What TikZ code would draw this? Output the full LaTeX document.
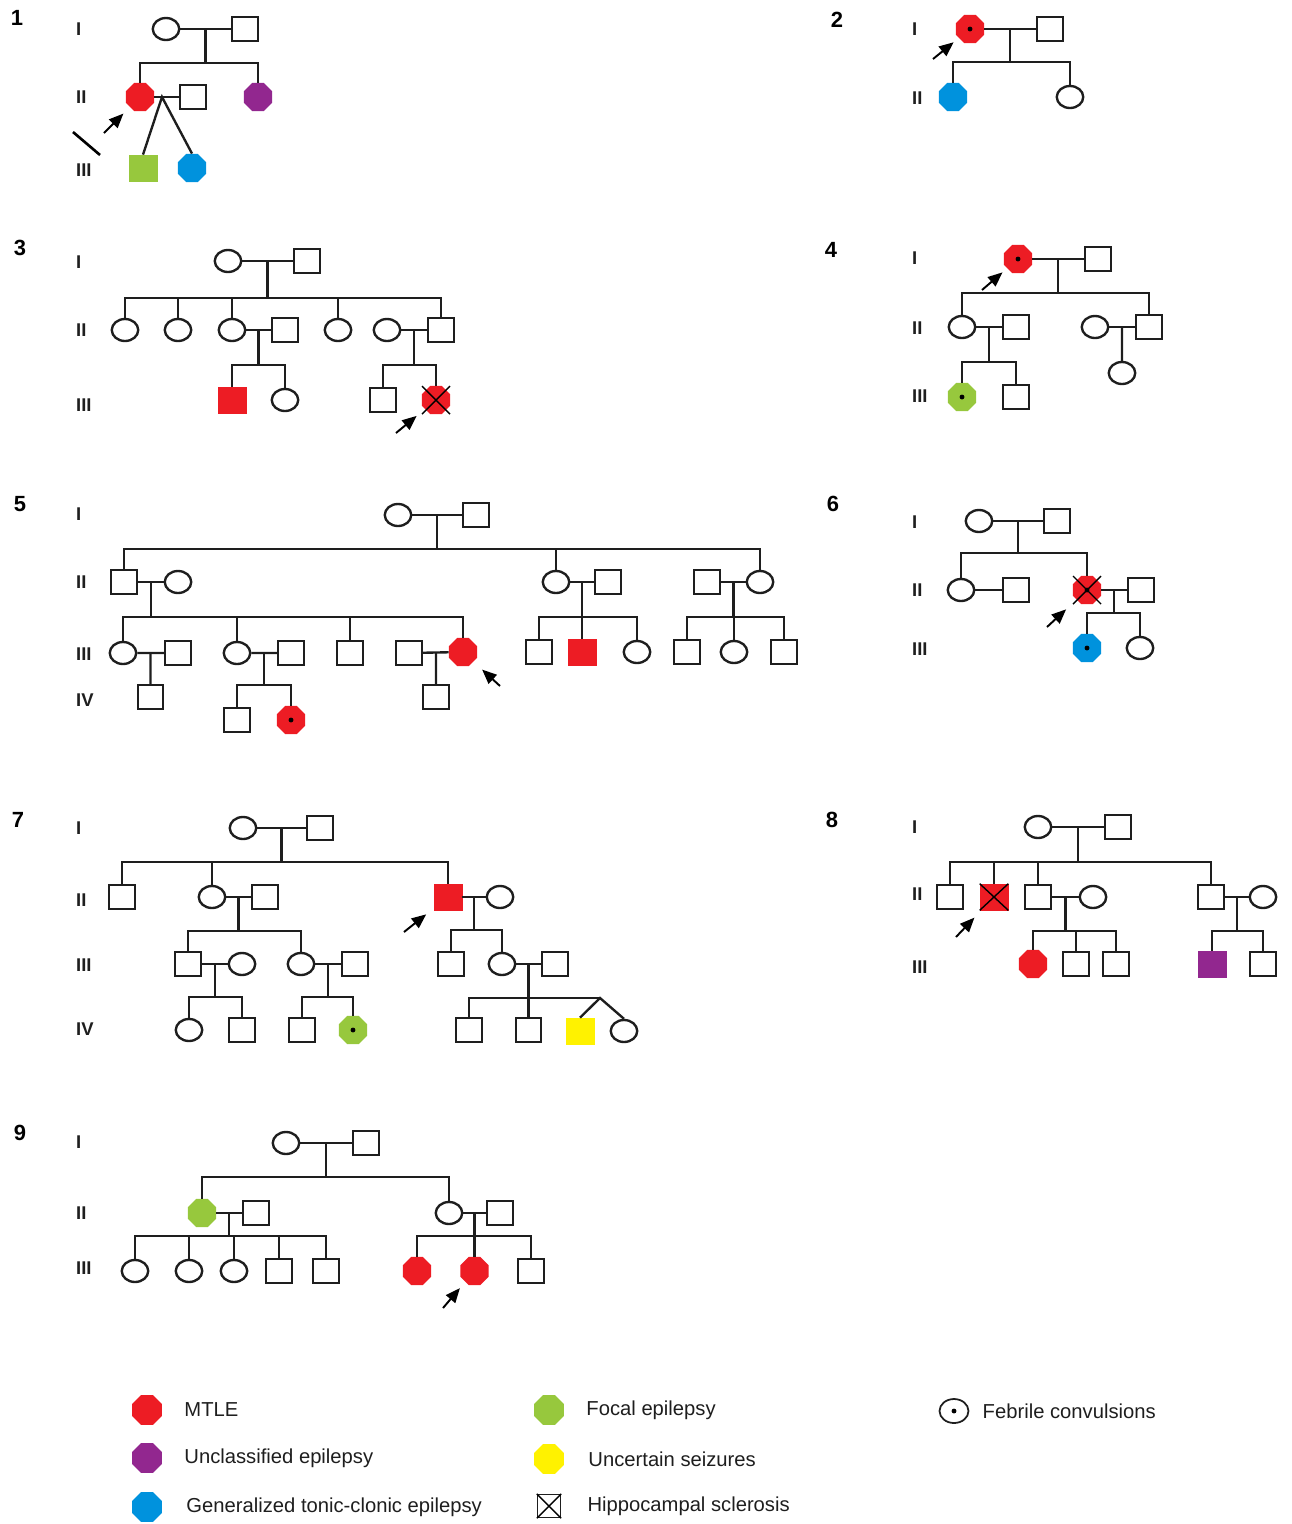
\documentclass[tikz,border=0pt]{standalone}
\usepackage{fontspec}
\setmainfont{Liberation Sans}
\usepackage{tikz}
\usetikzlibrary{arrows.meta,positioning,calc,shapes.geometric}

\definecolor{mtle}{RGB}{237,28,36}
\definecolor{uncl}{RGB}{146,39,143}
\definecolor{gtcs}{RGB}{0,146,221}
\definecolor{focal}{RGB}{151,200,61}
\definecolor{uncert}{RGB}{255,242,0}
\definecolor{ink}{RGB}{30,30,30}

\begin{document}
\begin{tikzpicture}[
  x=0.2mm, y=-0.2mm,
  rel/.style={draw=ink, line width=1.35pt},
  male/.style={rectangle, draw=ink, line width=1.35pt, inner sep=0pt,
               minimum width=5.1mm, minimum height=4.8mm},
  female/.style={ellipse, draw=ink, line width=1.35pt, inner sep=0pt,
                 minimum width=5.3mm, minimum height=4.4mm},
  affm/.style={rectangle, fill=#1, draw=#1, line width=0.4pt, inner sep=0pt,
               minimum width=5.6mm, minimum height=5.2mm},
  afff/.style={regular polygon, regular polygon sides=8, fill=#1,
               inner sep=0pt, minimum size=6.1mm},
  hs/.style={draw=black, line width=0.8pt},
  proband/.style={draw=black, line width=1.1pt,
                  -{Triangle[length=2.9mm,width=2.4mm]}, shorten >=1.8mm},
  gen/.style={anchor=west, text=ink, font=\fontsize{10.5}{11}\selectfont\bfseries},
  panel/.style={font=\fontsize{12.5}{14}\selectfont\bfseries},
  keytext/.style={anchor=west, inner sep=0pt, text=ink,
                  font=\fontsize{11.5}{13}\selectfont}]
\useasboundingbox (0,0) rectangle (1292,1524);

% ================= pedigree 1 =============================================
\node[panel] (n1) at (17,18) {1};
\foreach \y/\g in {29/I, 97/II, 170/III}
  {\node[gen] (p1-g\g) at (70,\y) {\g};}
\node[female] (p1-I-1) at (166,29) {};
\node[male]   (p1-I-2) at (245,29) {};
\node[afff=mtle] (p1-II-1) at (140,97) {};
\node[male]      (p1-II-2) at (193,97) {};
\node[afff=uncl] (p1-II-3) at (258,97) {};
\node[affm=focal] (p1-III-1) at (143,168) {};
\node[afff=gtcs]  (p1-III-2) at (192,168) {};
\coordinate (p1-m1) at ($(p1-I-1)!.5!(p1-I-2)$);
\coordinate (p1-s1) at (p1-m1 |- 0,63);
\coordinate (p1-tw) at (162,97);
\draw[rel] (p1-I-1) -- (p1-I-2) (p1-m1) -- (p1-s1);
\draw[rel] (p1-II-1.north) |- (p1-s1) -| (p1-II-3.north);
\draw[rel] (p1-II-1) -- (p1-II-2);
\draw[rel] (p1-III-1.north) -- (p1-tw) -- (p1-III-2.north);
\coordinate (p1-pb) at (104,133);
\draw[proband] (p1-pb) -- (p1-II-1);
\draw[line width=1.5pt, black] (73,132) -- (100,155);

% ================= pedigree 2 =============================================
\node[panel] (n2) at (837,20) {2};
\foreach \y/\g in {29/I, 98/II}
  {\node[gen] (p2-g\g) at (906,\y) {\g};}
\node[afff=mtle] (p2-I-1) at (970,29) {};
\fill[black] (p2-I-1) circle (1.4pt);
\node[male]      (p2-I-2) at (1050,29) {};
\node[afff=gtcs] (p2-II-1) at (953,97) {};
\node[female]    (p2-II-2) at (1070,97) {};
\coordinate (p2-m1) at ($(p2-I-1)!.5!(p2-I-2)$);
\coordinate (p2-s1) at (p2-m1 |- 0,62);
\draw[rel] (p2-I-1) -- (p2-I-2) (p2-m1) -- (p2-s1);
\draw[rel] (p2-II-1.north) |- (p2-s1) -| (p2-II-2.north);
\coordinate (p2-pb) at (933,59);
\draw[proband, shorten >=1.3mm] (p2-pb) -- (p2-I-1);

% ================= pedigree 3 =============================================
\node[panel] (n3) at (20,248) {3};
\foreach \y/\g in {262/I, 330/II, 405/III}
  {\node[gen] (p3-g\g) at (70,\y) {\g};}
\node[female] (p3-I-1) at (228,261) {};
\node[male]   (p3-I-2) at (307,261) {};
\foreach \x/\sx [count=\i] in {125/female, 178/female, 232/female, 285/male,
                               338/female, 387/female, 441/male}
  {\node[\sx] (p3-II-\i) at (\x,330) {};}
\node[affm=mtle] (p3-III-1) at (232,400) {};
\node[female]    (p3-III-2) at (285,400) {};
\node[male]      (p3-III-3) at (383,400) {};
\node[afff=mtle] (p3-III-4) at (436,400) {};
\draw[hs] (p3-III-4) ++(-14,-14) -- ++(28,28) ++(0,-28) -- ++(-28,28);
\coordinate (p3-m1) at ($(p3-I-1)!.5!(p3-I-2)$);
\coordinate (p3-s1) at (p3-m1 |- 0,298);
\coordinate (p3-m2) at ($(p3-II-3)!.5!(p3-II-4)$);
\coordinate (p3-s2) at (p3-m2 |- 0,365);
\coordinate (p3-m3) at ($(p3-II-6)!.5!(p3-II-7)$);
\coordinate (p3-s3) at (p3-m3 |- 0,365);
\draw[rel] (p3-I-1) -- (p3-I-2) (p3-m1) -- (p3-s1);
\draw[rel] (p3-II-1.north) |- (p3-s1) -| (p3-II-7.north);
\foreach \i in {2,3,5}
  {\draw[rel] (p3-II-\i.north) -- (p3-II-\i.north |- p3-s1);}
\draw[rel] (p3-II-3) -- (p3-II-4) (p3-II-6) -- (p3-II-7);
\draw[rel] (p3-m2) -- (p3-s2) (p3-III-1.north) |- (p3-s2) -| (p3-III-2.north);
\draw[rel] (p3-m3) -- (p3-s3) (p3-III-3.north) |- (p3-s3) -| (p3-III-4.north);
\coordinate (p3-pb) at (396,433);
\draw[proband, shorten >=2.1mm] (p3-pb) -- (p3-III-4);

% ================= pedigree 4 =============================================
\node[panel] (n4) at (831,250) {4};
\foreach \y/\g in {258/I, 328/II, 396/III}
  {\node[gen] (p4-g\g) at (906,\y) {\g};}
\node[afff=mtle] (p4-I-1) at (1018,259) {};
\fill[black] (p4-I-1) circle (1.4pt);
\node[male]      (p4-I-2) at (1098,259) {};
\foreach \x/\sx [count=\i] in {962/female, 1016/male, 1095/female, 1149/male}
  {\node[\sx] (p4-II-\i) at (\x,327) {};}
\node[afff=focal] (p4-III-1) at (962,397) {};
\fill[black] (p4-III-1) circle (1.4pt);
\node[male]       (p4-III-2) at (1016,397) {};
\node[female]     (p4-III-3) at (1122,373) {};
\coordinate (p4-m1) at ($(p4-I-1)!.5!(p4-I-2)$);
\coordinate (p4-s1) at (p4-m1 |- 0,293);
\coordinate (p4-m2) at ($(p4-II-1)!.5!(p4-II-2)$);
\coordinate (p4-s2) at (p4-m2 |- 0,362);
\coordinate (p4-m3) at ($(p4-II-3)!.5!(p4-II-4)$);
\draw[rel] (p4-I-1) -- (p4-I-2) (p4-m1) -- (p4-s1);
\draw[rel] (p4-II-1.north) |- (p4-s1) -| (p4-II-4.north);
\draw[rel] (p4-II-1) -- (p4-II-2) (p4-II-3) -- (p4-II-4);
\draw[rel] (p4-m2) -- (p4-s2) (p4-III-1.north) |- (p4-s2) -| (p4-III-2.north);
\draw[rel] (p4-m3) -- (p4-III-3);
\coordinate (p4-pb) at (982,290);
\draw[proband, shorten >=1.2mm] (p4-pb) -- (p4-I-1);

% ================= pedigree 5 =============================================
\node[panel] (n5) at (20,504) {5};
\foreach \y/\g in {514/I, 582/II, 654/III, 700/IV}
  {\node[gen] (p5-g\g) at (70,\y) {\g};}
\node[female] (p5-I-1) at (398,515) {};
\node[male]   (p5-I-2) at (476,515) {};
\foreach \x/\sx [count=\i] in {124/male, 178/female, 556/female, 608/male,
                               707/male, 760/female}
  {\node[\sx] (p5-II-\i) at (\x,582) {};}
\foreach \x/\sx [count=\i] in {123/female, 178/male, 237/female, 291/male,
                               350/male, 409/male}
  {\node[\sx] (p5-III-\i) at (\x,653) {};}
\node[afff=mtle] (p5-III-7) at (463,652) {};
\node[male]      (p5-III-8) at (539,652) {};
\node[affm=mtle] (p5-III-9) at (582,652) {};
\node[female]    (p5-III-10) at (637,652) {};
\node[male]      (p5-III-11) at (687,652) {};
\node[female]    (p5-III-12) at (734,652) {};
\node[male]      (p5-III-13) at (784,652) {};
\node[male]      (p5-IV-1) at (150.5,697) {};
\node[male]      (p5-IV-2) at (237,720) {};
\node[afff=mtle] (p5-IV-3) at (291,720) {};
\fill[black] (p5-IV-3) circle (1.4pt);
\node[male]      (p5-IV-4) at (436,697) {};
\coordinate (p5-m1) at ($(p5-I-1)!.5!(p5-I-2)$);
\coordinate (p5-s1) at (p5-m1 |- 0,549);
\coordinate (p5-m2) at ($(p5-II-1)!.5!(p5-II-2)$);
\coordinate (p5-s2) at (p5-m2 |- 0,617);
\coordinate (p5-m3) at ($(p5-II-3)!.5!(p5-II-4)$);
\coordinate (p5-s3) at (p5-m3 |- 0,617);
\coordinate (p5-m4) at ($(p5-II-5)!.5!(p5-II-6)$);
\coordinate (p5-s4) at (p5-m4 |- 0,617);
\coordinate (p5-m5) at ($(p5-III-1)!.5!(p5-III-2)$);
\coordinate (p5-m6) at ($(p5-III-3)!.5!(p5-III-4)$);
\coordinate (p5-s6) at (p5-m6 |- 0,685);
\coordinate (p5-m7) at ($(p5-III-6)!.5!(p5-III-7)$);
\draw[rel] (p5-I-1) -- (p5-I-2) (p5-m1) -- (p5-s1);
\draw[rel] (p5-II-1.north) |- (p5-s1) -| (p5-II-6.north);
\draw[rel] (p5-II-3.north) -- (p5-II-3.north |- p5-s1);
\draw[rel] (p5-II-1) -- (p5-II-2) (p5-II-3) -- (p5-II-4) (p5-II-5) -- (p5-II-6);
\draw[rel] (p5-m2) -- (p5-s2) (p5-III-1.north) |- (p5-s2) -| (p5-III-7.north);
\foreach \i in {3,5}
  {\draw[rel] (p5-III-\i.north) -- (p5-III-\i.north |- p5-s2);}
\draw[rel] (p5-m3) -- (p5-s3) (p5-III-8.north) |- (p5-s3) -| (p5-III-10.north);
\draw[rel] (p5-III-9.north) -- (p5-III-9.north |- p5-s3);
\draw[rel] (p5-m4) -- (p5-s4) (p5-III-11.north) |- (p5-s4) -| (p5-III-13.north);
\draw[rel] (p5-III-12.north) -- (p5-III-12.north |- p5-s4);
\draw[rel] (p5-III-1) -- (p5-III-2) (p5-III-3) -- (p5-III-4) (p5-III-6) -- (p5-III-7);
\draw[rel] (p5-m5) -- (p5-IV-1) (p5-m7) -- (p5-IV-4);
\draw[rel] (p5-m6) -- (p5-s6) (p5-IV-2.north) |- (p5-s6) -| (p5-IV-3.north);
\coordinate (p5-pb) at (500,686);
\draw[proband, shorten >=2.3mm] (p5-pb) -- (p5-III-7);

% ================= pedigree 6 =============================================
\node[panel] (n6) at (833,504) {6};
\foreach \y/\g in {522/I, 590/II, 649/III}
  {\node[gen] (p6-g\g) at (906,\y) {\g};}
\node[female] (p6-I-1) at (979,521) {};
\node[male]   (p6-I-2) at (1057,521) {};
\node[female]    (p6-II-1) at (961,590) {};
\node[male]      (p6-II-2) at (1016,590) {};
\node[afff=mtle] (p6-II-3) at (1087,590) {};
\draw[hs] (p6-II-3) ++(-14,-14) -- ++(28,28) ++(0,-28) -- ++(-28,28);
\fill[black] (p6-II-3) circle (1.4pt);
\node[male]      (p6-II-4) at (1141,590) {};
\node[afff=gtcs] (p6-III-1) at (1087,648) {};
\fill[black] (p6-III-1) circle (1.4pt);
\node[female]    (p6-III-2) at (1140,648) {};
\coordinate (p6-m1) at ($(p6-I-1)!.5!(p6-I-2)$);
\coordinate (p6-s1) at (p6-m1 |- 0,553);
\coordinate (p6-m2) at ($(p6-II-3)!.5!(p6-II-4)$);
\coordinate (p6-s2) at (p6-m2 |- 0,613);
\draw[rel] (p6-I-1) -- (p6-I-2) (p6-m1) -- (p6-s1);
\draw[rel] (p6-II-1.north) |- (p6-s1) -| (p6-II-3.north);
\draw[rel] (p6-II-1) -- (p6-II-2) (p6-II-3) -- (p6-II-4);
\draw[rel] (p6-m2) -- (p6-s2) (p6-III-1.north) |- (p6-s2) -| (p6-III-2.north);
\coordinate (p6-pb) at (1047,627);
\draw[proband, shorten >=2.8mm] (p6-pb) -- (p6-II-3);

% ================= pedigree 7 =============================================
\node[panel] (n7) at (18,820) {7};
\foreach \y/\g in {828/I, 900/II, 965/III, 1029/IV}
  {\node[gen] (p7-g\g) at (70,\y) {\g};}
\node[female] (p7-I-1) at (243,828) {};
\node[male]   (p7-I-2) at (320,828) {};
\foreach \x/\sx [count=\i] in {122/male, 212/female, 265/male}
  {\node[\sx] (p7-II-\i) at (\x,897) {};}
\node[affm=mtle] (p7-II-4) at (448,897) {};
\node[female]    (p7-II-5) at (500,897) {};
\foreach \x/\sx [count=\i] in {188/male, 242/female, 301/female, 355/male,
                               451/male, 502/female, 555/male}
  {\node[\sx] (p7-III-\i) at (\x,964) {};}
\foreach \x/\sx [count=\i] in {189/female, 242/male, 302/male}
  {\node[\sx] (p7-IV-\i) at (\x,1030) {};}
\node[afff=focal]  (p7-IV-4) at (353,1030) {};
\fill[black] (p7-IV-4) circle (1.4pt);
\node[male]        (p7-IV-5) at (469,1030) {};
\node[male]        (p7-IV-6) at (528.5,1030) {};
\node[affm=uncert] (p7-IV-7) at (580,1031) {};
\node[female]      (p7-IV-8) at (624,1031) {};
\coordinate (p7-m1) at ($(p7-I-1)!.5!(p7-I-2)$);
\coordinate (p7-s1) at (p7-m1 |- 0,862);
\coordinate (p7-m2) at ($(p7-II-2)!.5!(p7-II-3)$);
\coordinate (p7-s2) at (p7-m2 |- 0,931);
\coordinate (p7-m3) at ($(p7-II-4)!.5!(p7-II-5)$);
\coordinate (p7-s3) at (p7-m3 |- 0,930);
\coordinate (p7-m4) at ($(p7-III-1)!.5!(p7-III-2)$);
\coordinate (p7-s4) at (p7-m4 |- 0,997);
\coordinate (p7-m5) at ($(p7-III-3)!.5!(p7-III-4)$);
\coordinate (p7-s5) at (p7-m5 |- 0,997);
\coordinate (p7-m6) at ($(p7-III-6)!.5!(p7-III-7)$);
\coordinate (p7-s6) at (p7-m6 |- 0,998);
\coordinate (p7-tw) at (600,998);
\draw[rel] (p7-I-1) -- (p7-I-2) (p7-m1) -- (p7-s1);
\draw[rel] (p7-II-1.north) |- (p7-s1) -| (p7-II-4.north);
\draw[rel] (p7-II-2.north) -- (p7-II-2.north |- p7-s1);
\draw[rel] (p7-II-2) -- (p7-II-3) (p7-II-4) -- (p7-II-5);
\draw[rel] (p7-m2) -- (p7-s2) (p7-III-1.north) |- (p7-s2) -| (p7-III-3.north);
\draw[rel] (p7-m3) -- (p7-s3) (p7-III-5.north) |- (p7-s3) -| (p7-III-6.north);
\draw[rel] (p7-III-1) -- (p7-III-2) (p7-III-3) -- (p7-III-4) (p7-III-6) -- (p7-III-7);
\draw[rel] (p7-m4) -- (p7-s4) (p7-IV-1.north) |- (p7-s4) -| (p7-IV-2.north);
\draw[rel] (p7-m5) -- (p7-s5) (p7-IV-3.north) |- (p7-s5) -| (p7-IV-4.north);
\draw[rel] (p7-m6) -- (p7-s6) (p7-IV-5.north) |- (p7-s6) -- (p7-tw);
\draw[rel] (p7-IV-6.north) -- (p7-IV-6.north |- p7-s6);
\draw[rel] (p7-IV-7.north) -- (p7-tw) -- (p7-IV-8.north);
\coordinate (p7-pb) at (404,932);
\draw[proband, shorten >=1.9mm] (p7-pb) -- (p7-II-4);

% ================= pedigree 8 =============================================
\node[panel] (n8) at (832,820) {8};
\foreach \y/\g in {827/I, 894/II, 967/III}
  {\node[gen] (p8-g\g) at (906,\y) {\g};}
\node[female] (p8-I-1) at (1038,827) {};
\node[male]   (p8-I-2) at (1118,827) {};
\node[male]      (p8-II-1) at (950,897) {};
\node[affm=mtle] (p8-II-2) at (994,897) {};
\draw[hs] (p8-II-2.north west) -- (p8-II-2.south east)
          (p8-II-2.north east) -- (p8-II-2.south west);
\foreach \x/\sx [count=\i from 3] in {1038/male, 1093/female, 1211/male, 1263/female}
  {\node[\sx] (p8-II-\i) at (\x,897) {};}
\node[afff=mtle] (p8-III-1) at (1033,964) {};
\node[male]      (p8-III-2) at (1076,964) {};
\node[male]      (p8-III-3) at (1116,964) {};
\node[affm=uncl] (p8-III-4) at (1212,964) {};
\node[male]      (p8-III-5) at (1263,964) {};
\coordinate (p8-m1) at ($(p8-I-1)!.5!(p8-I-2)$);
\coordinate (p8-s1) at (p8-m1 |- 0,862);
\coordinate (p8-m2) at ($(p8-II-3)!.5!(p8-II-4)$);
\coordinate (p8-s2) at (p8-m2 |- 0,931);
\coordinate (p8-m3) at ($(p8-II-5)!.5!(p8-II-6)$);
\coordinate (p8-s3) at (p8-m3 |- 0,931);
\draw[rel] (p8-I-1) -- (p8-I-2) (p8-m1) -- (p8-s1);
\draw[rel] (p8-II-1.north) |- (p8-s1) -| (p8-II-5.north);
\foreach \i in {2,3}
  {\draw[rel] (p8-II-\i.north) -- (p8-II-\i.north |- p8-s1);}
\draw[rel] (p8-II-3) -- (p8-II-4) (p8-II-5) -- (p8-II-6);
\draw[rel] (p8-m2) -- (p8-s2) (p8-III-1.north) |- (p8-s2) -| (p8-III-3.north);
\draw[rel] (p8-III-2.north) -- (p8-III-2.north |- p8-s2);
\draw[rel] (p8-m3) -- (p8-s3) (p8-III-4.north) |- (p8-s3) -| (p8-III-5.north);
\coordinate (p8-pb) at (956,937);
\draw[proband, shorten >=2mm] (p8-pb) -- (p8-II-2);

% ================= pedigree 9 =============================================
\node[panel] (n9) at (20,1133) {9};
\foreach \y/\g in {1142/I, 1213/II, 1268/III}
  {\node[gen] (p9-g\g) at (70,\y) {\g};}
\node[female] (p9-I-1) at (286,1143) {};
\node[male]   (p9-I-2) at (366,1143) {};
\node[afff=focal] (p9-II-1) at (202,1213) {};
\node[male]       (p9-II-2) at (256,1213) {};
\node[female]     (p9-II-3) at (449,1213) {};
\node[male]       (p9-II-4) at (500,1213) {};
\foreach \x/\sx [count=\i] in {135/female, 189/female, 234/female, 279/male, 326/male}
  {\node[\sx] (p9-III-\i) at (\x,1271) {};}
\node[afff=mtle] (p9-III-6) at (417,1271) {};
\node[afff=mtle] (p9-III-7) at (474.5,1271) {};
\node[male]      (p9-III-8) at (531,1271) {};
\coordinate (p9-m1) at ($(p9-I-1)!.5!(p9-I-2)$);
\coordinate (p9-s1) at (p9-m1 |- 0,1177);
\coordinate (p9-m2) at ($(p9-II-1)!.5!(p9-II-2)$);
\coordinate (p9-s2) at (p9-m2 |- 0,1236);
\coordinate (p9-m3) at ($(p9-II-3)!.5!(p9-II-4)$);
\coordinate (p9-s3) at (p9-m3 |- 0,1236);
\draw[rel] (p9-I-1) -- (p9-I-2) (p9-m1) -- (p9-s1);
\draw[rel] (p9-II-1.north) |- (p9-s1) -| (p9-II-3.north);
\draw[rel] (p9-II-1) -- (p9-II-2) (p9-II-3) -- (p9-II-4);
\draw[rel] (p9-m2) -- (p9-s2) (p9-III-1.north) |- (p9-s2) -| (p9-III-5.north);
\foreach \i in {2,3,4}
  {\draw[rel] (p9-III-\i.north) -- (p9-III-\i.north |- p9-s2);}
\draw[rel] (p9-m3) -- (p9-s3) (p9-III-6.north) |- (p9-s3) -| (p9-III-8.north);
\draw[rel] (p9-III-7.north) -- (p9-III-7.north |- p9-s3);
\coordinate (p9-pb) at (443,1308);
\draw[proband, shorten >=1.6mm] (p9-pb) -- (p9-III-7);

% ================= legend =================================================
\node[afff=mtle, minimum size=6.4mm] (k-mtle) at (147,1410) {};
\node[keytext, right=4.4mm of k-mtle] (k-mtle-t) {MTLE};
\node[afff=uncl, minimum size=6.4mm] (k-uncl) at (147,1458) {};
\node[keytext, right=4.4mm of k-uncl] (k-uncl-t) {Unclassified epilepsy};
\node[afff=gtcs, minimum size=6.4mm] (k-gtcs) at (147,1507) {};
\node[keytext, right=4.8mm of k-gtcs] (k-gtcs-t) {Generalized tonic-clonic epilepsy};
\node[afff=focal, minimum size=6.4mm] (k-focal) at (549,1410) {};
\node[keytext, right=4.4mm of k-focal] (k-focal-t) {Focal epilepsy};
\node[afff=uncert, minimum size=6.4mm] (k-unc) at (549,1459) {};
\node[keytext, right=4.8mm of k-unc] (k-unc-t) {Uncertain seizures};
\node[male, line width=0.8pt, minimum width=4.6mm, minimum height=4.6mm]
  (k-hs) at (549,1506) {};
\draw[hs] (k-hs.north west) -- (k-hs.south east)
          (k-hs.north east) -- (k-hs.south west);
\node[keytext, right=5.2mm of k-hs] (k-hs-t) {Hippocampal sclerosis};
\node[female, line width=1pt, minimum width=5.8mm, minimum height=4.8mm]
  (k-fc) at (954,1411) {};
\fill[black] (k-fc) circle (1.4pt);
\node[keytext, right=2.6mm of k-fc] (k-fc-t) {Febrile convulsions};

\end{tikzpicture}
\end{document}
